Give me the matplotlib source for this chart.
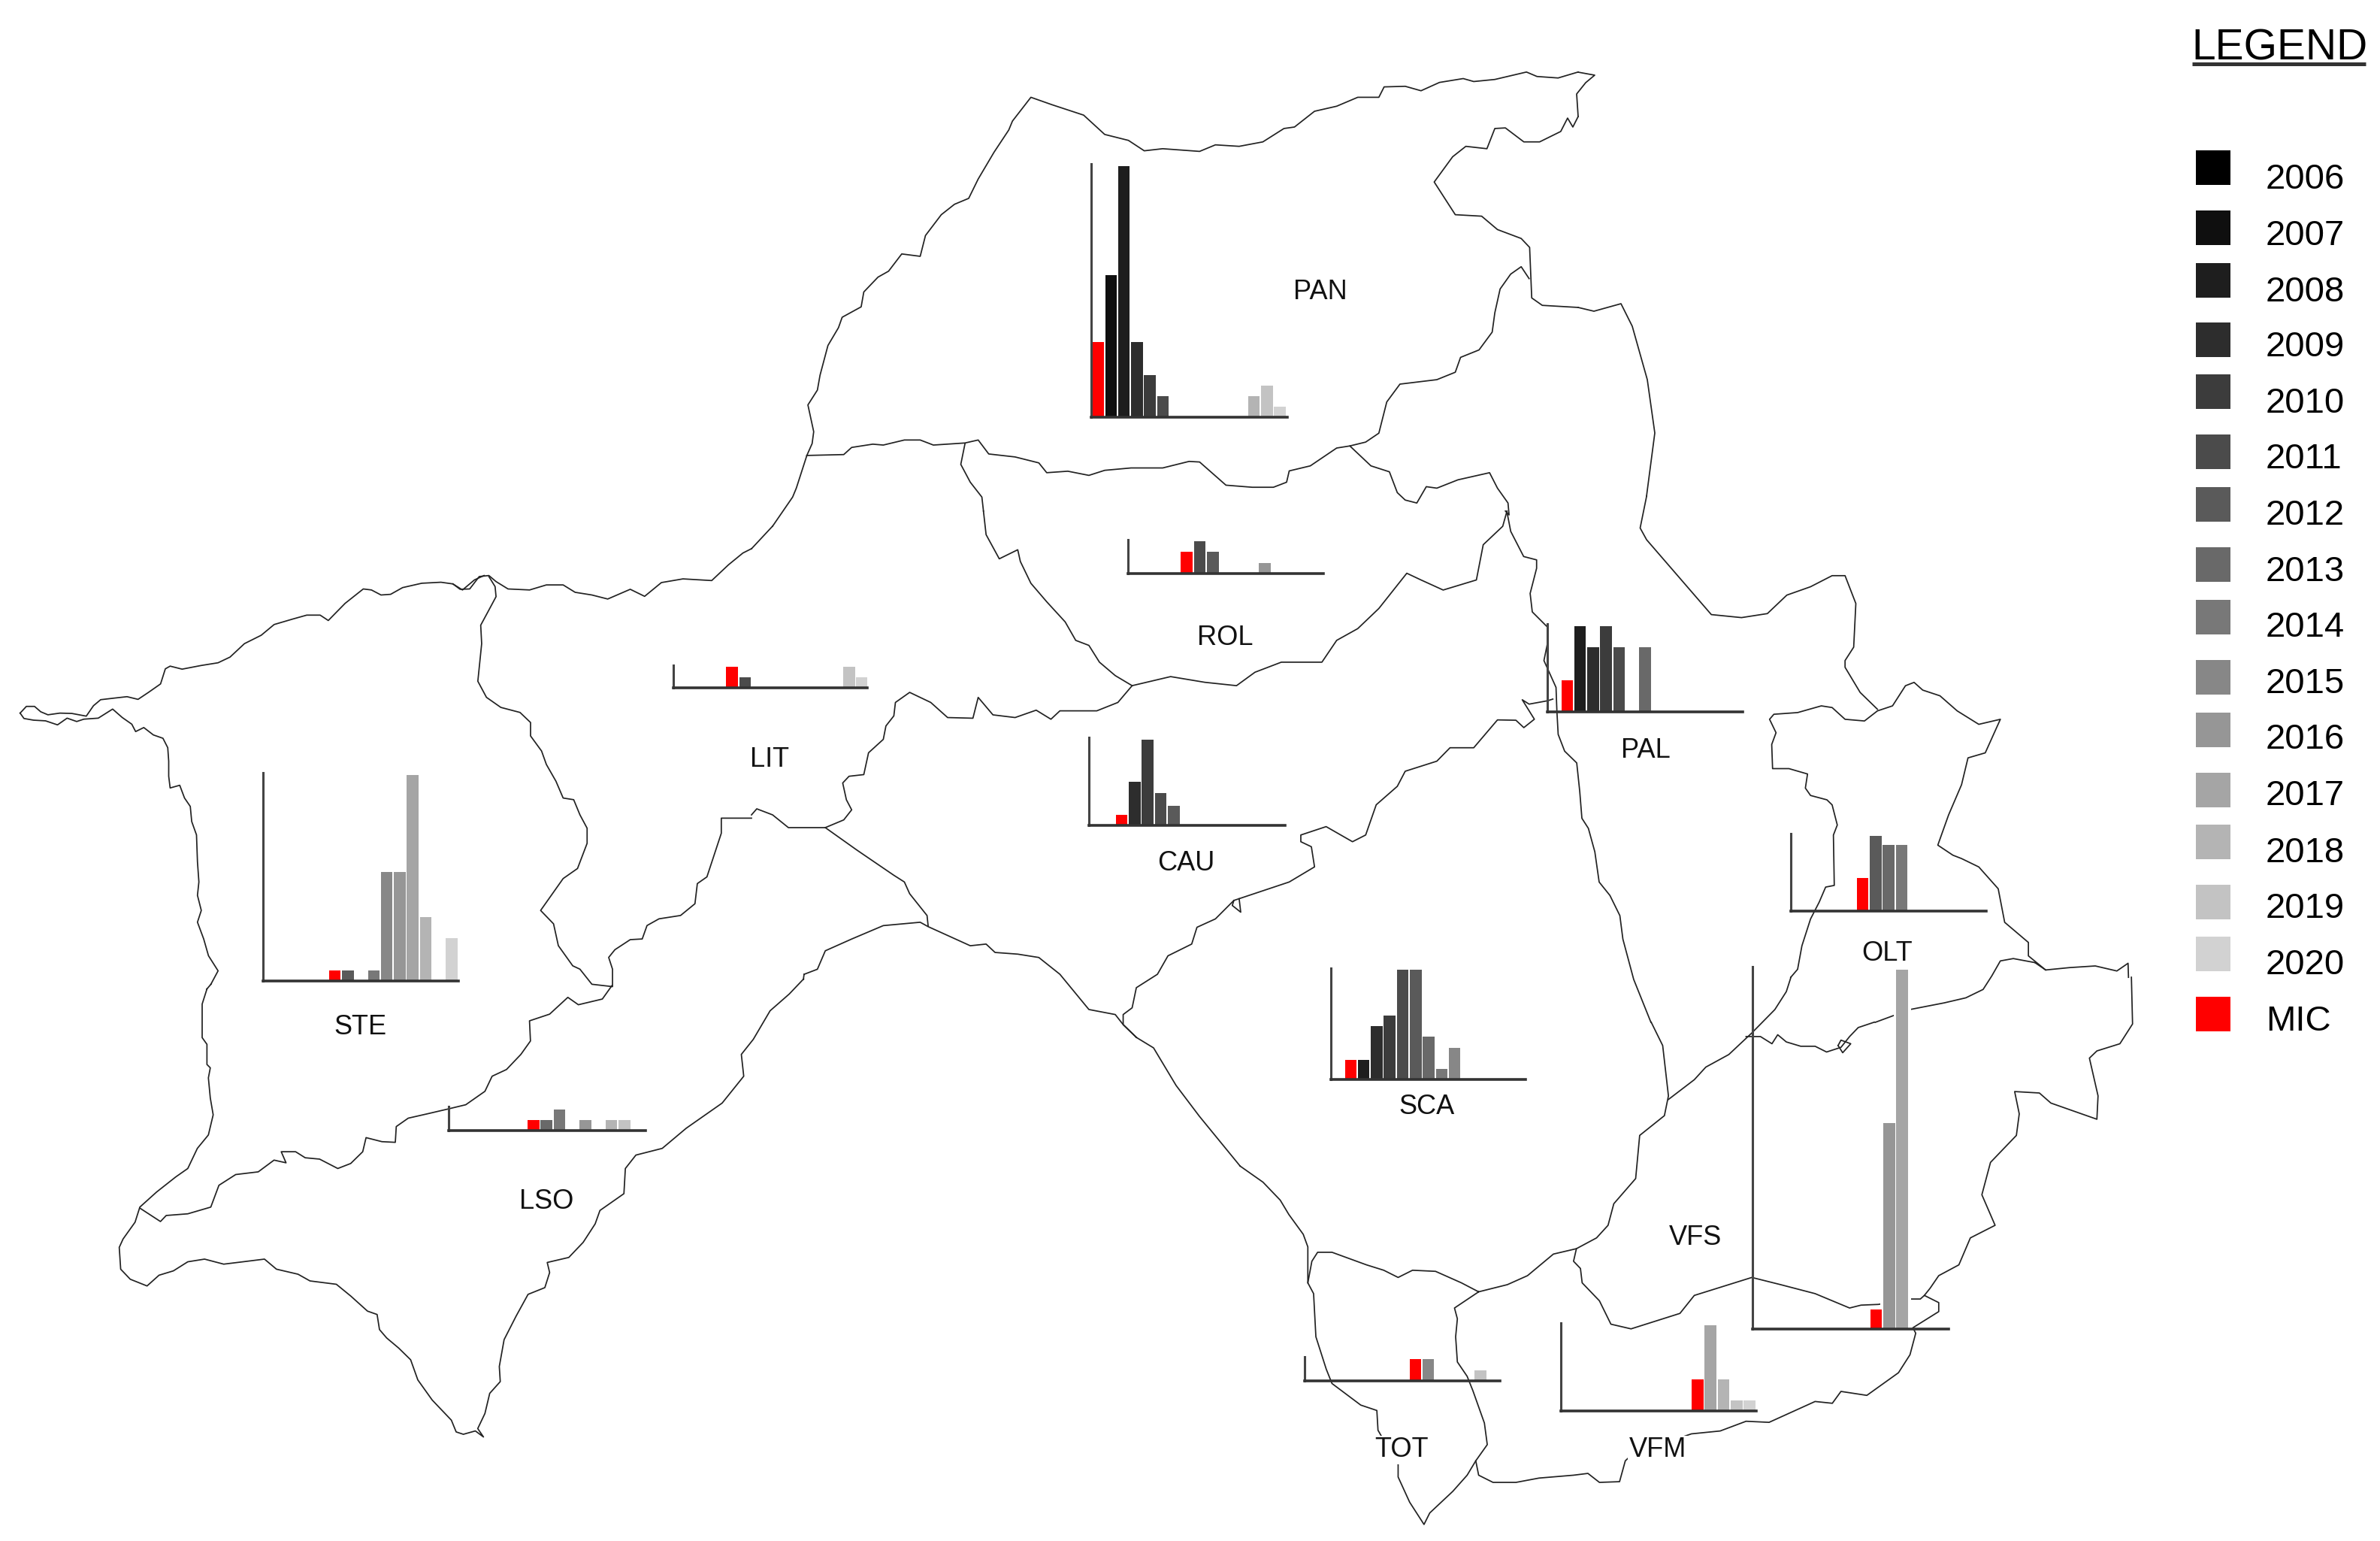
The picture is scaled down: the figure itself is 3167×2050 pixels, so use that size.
import matplotlib
matplotlib.use("Agg")
import matplotlib.pyplot as plt
from matplotlib.patches import Rectangle

W, H = 3167, 2050
DPI = 100

# ---------- data: yearly values per area (2006..2020) ----------
YEARS = list(range(2006, 2021))
PAN = [7.2, 13.6, 24.0, 7.2, 4.0, 2.0, 0, 0, 0, 0, 0, 0, 2.0, 3.0, 1.0]
ROL = [0, 0, 0, 0, 2.1, 3.1, 2.1, 0, 0, 0, 1.0, 0, 0, 0, 0]
LIT = [0, 0, 0, 0, 2.0, 1.0, 0, 0, 0, 0, 0, 0, 0, 2.0, 1.0]
CAU = [0, 0, 1.0, 4.2, 8.2, 3.1, 1.9, 0, 0, 0, 0, 0, 0, 0, 0]
PAL = [0, 3.0, 8.2, 6.2, 8.2, 6.2, 0, 6.2, 0, 0, 0, 0, 0, 0, 0]
OLT = [0, 0, 0, 0, 0, 3.2, 7.2, 6.3, 6.3, 0, 0, 0, 0, 0, 0]
STE = [0, 0, 0, 0, 0, 1.0, 1.0, 0, 1.0, 10.4, 10.4, 19.7, 6.1, 0, 4.1]
LSO = [0, 0, 0, 0, 0, 0, 1.0, 1.0, 2.05, 0, 1.0, 0, 1.0, 1.0, 0]
SCA = [0, 1.9, 1.9, 5.1, 6.1, 10.5, 10.5, 4.1, 1.0, 3.0, 0, 0, 0, 0, 0]
VFS = [0, 0, 0, 0, 0, 0, 0, 0, 0, 1.9, 19.7, 34.4, 0, 0, 0]
TOT = [0, 0, 0, 0, 0, 0, 0, 0, 2.1, 2.1, 0, 0, 0, 1.0, 0]
VFM = [0, 0, 0, 0, 0, 0, 0, 0, 0, 0, 3.0, 8.2, 3.0, 1.0, 1.0]
AREAS = {"PAN": PAN, "ROL": ROL, "LIT": LIT, "CAU": CAU, "PAL": PAL, "OLT": OLT,
         "STE": STE, "LSO": LSO, "SCA": SCA, "VFS": VFS, "TOT": TOT, "VFM": VFM}
MIC_YEAR = {"PAN": 2006, "ROL": 2010, "LIT": 2010, "CAU": 2008, "PAL": 2007, "OLT": 2011,
            "STE": 2011, "LSO": 2012, "SCA": 2007, "VFS": 2015, "TOT": 2014, "VFM": 2016}

# ---------- layout ----------
# inset box: left x, baseline y, right x, top y (pixels)
BOX = {"PAN": (1452, 555, 1713, 218), "ROL": (1501, 763, 1761, 718), "LIT": (896, 915, 1154, 885),
       "CAU": (1449, 1098, 1710, 981), "PAL": (2059, 947, 2319, 830), "OLT": (2383, 1212, 2643, 1109),
       "STE": (350, 1305, 610, 1028), "LSO": (597, 1504, 859, 1472), "SCA": (1771, 1436, 2030, 1288),
       "VFS": (2332, 1768, 2593, 1286), "TOT": (1736, 1837, 1996, 1805), "VFM": (2077, 1877, 2337, 1760)}
LABEL = {"PAN": (1757, 389), "ROL": (1630, 848), "LIT": (1024, 1010), "CAU": (1578, 1149),
         "PAL": (2190, 998), "OLT": (2511, 1269), "STE": (479, 1367), "LSO": (727, 1598),
         "SCA": (1899, 1473), "VFS": (2256, 1646), "TOT": (1865, 1929), "VFM": (2206, 1929)}
UNIT_PX = 13.9
SLOT_PX = 17.29
FIRST_SLOT_PX = 9
SPINE_COLOR = "#444444"
LEG_TOP = [200, 280, 350, 429, 498, 578, 648, 728, 798, 878, 948, 1028, 1097, 1177, 1246, 1326]
LEG_BASE = [251, 326, 401, 474, 549, 623, 698, 773, 847, 922, 996, 1071, 1147, 1221, 1296, 1371]
GREYS = ["#%02x%02x%02x" % (g, g, g) for g in
         [0, 15, 30, 45, 60, 75, 90, 105, 120, 135, 150, 165, 180, 195, 210]]

# ---------- boundary traces; each crop: (x offset, y offset, x scale, y scale) ----------
CROP = {"px": (0, 0, 1, 1), "c5": (0, 700, 1.568, 2.24), "c6": (100, 1300, 1.568, 2.24),
        "c7": (1000, 80, 1.4255, 2.529), "c8": (1000, 680, 1.4255, 2.24),
        "c9": (1950, 660, 1.742, 2.24), "c10": (1650, 1300, 1.3067, 2.0907)}
TRACES = [
 ("c5", [(42,557),(55,537),(72,537),(85,553),(100,562),(125,557),(150,558),(180,566),(195,535),(210,517),(240,512),(265,508),(288,516),(310,495),(335,470),(345,425),(355,417),(380,426),(420,415),(455,407),(480,390),(510,350),(545,325),(572,293),(610,277),(640,265),(668,265),(685,281),(720,230),(758,187),(775,190),(795,205),(815,203),(840,183),(880,170),(920,167),(945,172),(960,188),(980,187),(1000,150),(1020,147),(1035,165),(1060,187),(1105,190),(1140,175),(1175,175),(1200,197),(1235,205),(1268,217),(1315,188),(1345,209),(1380,168),(1425,157),(1485,162),(1520,115),(1550,80),(1568,67)]),
 ("px", [(1000,730),(1028,700)]),
 ("c5", [(945,172),(965,190),(990,160),(1010,147)]),
 ("c5", [(42,557),(50,573),(70,578),(95,580),(120,592),(140,572),(160,582),(175,575),(205,572),(235,545),(255,570),(275,590),(283,612),(300,600),(320,622),(340,632),(350,660),(352,700),(352,745),(355,780),(375,772),(385,810),(397,835),(400,880),(410,920),(412,1000),(415,1060),(412,1100),(420,1145),(412,1180),(425,1230),(435,1280),(455,1325),(440,1365)]),
 ("px", [(281,1309),(275,1316)]),
 ("c6", [(275,35),(265,80),(265,180),(275,200),(275,260),(282,270),(278,300),(282,360),(288,410),(278,470),(255,510),(235,570),(210,595),(170,640),(135,685),(125,730),(100,780),(92,805),(95,870),(115,900),(150,920),(175,888),(205,875),(235,848),(270,840),(310,855),(350,848),(395,840),(420,870),(465,885),(490,905),(545,915),(575,950),(610,995),(630,1005),(635,1050),(650,1075),(675,1105),(700,1140),(715,1200),(745,1260),(785,1320),(795,1355),(810,1362),(835,1352),(852,1370),(840,1345),(855,1300),(865,1240),(887,1205),(885,1160),(895,1080),(920,1010),(945,945),(980,925),(990,880),(985,850),(1030,835),(1060,790),(1085,735),(1095,695),(1145,645),(1148,570),(1170,530),(1225,510),(1275,450),(1330,395),(1350,375),(1395,295),(1390,230),(1415,185),(1450,100),(1490,50),(1520,5)]),
 ("px", [(1069,1303),(1070,1296)]),
 ("c8", [(100,1380),(125,1365),(140,1310),(190,1275),(250,1235),(320,1225),(335,1238),(415,1295),(445,1290),(462,1315),(505,1320),(545,1330),(585,1380),(640,1485),(690,1500),(705,1530),(730,1568)]),
 ("px", [(1512,1380),(1535,1394),(1565,1444),(1596,1485),(1650,1551)]),
 ("c10", [(0,525),(40,570),(70,620),(85,660),(110,715),(118,750),(118,850)]),
 ("c5", [(1020,150),(1033,180),(1035,210),(1020,250),(1003,295),(1005,350),(1000,420),(997,462),(1015,510),(1045,540),(1085,555),(1107,585),(1107,625),(1130,670),(1140,710),(1160,760),(1175,810),(1197,815),(1210,860),(1225,900),(1225,945),(1205,1020),(1175,1050),(1128,1145),(1155,1185),(1165,1250),(1195,1310),(1210,1320),(1235,1365),(1278,1372),(1278,1320),(1270,1285),(1283,1262),(1315,1232),(1340,1230),(1350,1190),(1375,1170),(1420,1160),(1450,1125),(1455,1065),(1475,1045),(1490,980),(1505,915),(1505,870),(1568,870)]),
 ("c6", [(1120,25),(1100,65),(1050,82),(1028,60),(990,110),(948,130),(950,190),(930,230),(900,275),(870,295),(855,340),(815,380),(780,392),(735,407),(695,420),(670,445),(668,492),(640,490),(607,478),(600,520),(575,555),(548,570),(510,542),(480,538),(460,520),(430,520),(440,553),(415,545),(382,580),(335,588),(300,620),(283,685),(235,705),(190,710),(178,728),(135,688)]),
 ("c8", [(0,905),(10,887),(40,905),(70,943),(140,943),(175,920),(190,890),(180,860),(173,810),(185,790),(213,785),(222,720),(250,680),(255,640),(270,610),(273,570),(300,540),(340,570),(372,615),(420,617),(430,555),(458,607),(500,615),(540,593),(568,620),(585,595),(655,595),(695,570),(722,520),(795,493),(860,510),(920,520),(955,480),(1005,450),(1082,450),(1110,385),(1150,350),(1190,290),(1243,185),(1270,205),(1312,235),(1375,205),(1388,100),(1425,45),(1433,0)]),
 ("c8", [(722,520),(690,490),(660,450),(640,400),(615,385),(595,330),(560,270),(530,215),(510,150),(505,115),(470,142),(445,70),(440,0)]),
 ("c7", [(440,1517),(437,1470),(415,1420),(397,1360),(405,1290)]),
 ("c7", [(105,1330),(115,1290),(118,1250),(107,1160),(125,1110),(130,1060),(145,960),(165,900),(172,865),(208,830),(213,780),(240,730),(260,710),(285,652),(320,660),(330,590),(360,520),(385,485),(412,465),(430,400),(460,310),(488,235),(495,205),(530,125),(570,150),(630,185),(670,250),(715,270),(745,305),(780,298),(850,307),(880,285),(925,290),(970,275),(1010,230),(1030,225),(1068,172),(1110,155),(1150,125),(1190,125),(1200,90),(1240,88),(1270,103),(1305,75),(1350,62),(1370,72),(1410,65),(1470,40),(1490,55),(1530,60),(1568,40)]),
 ("c7", [(105,1330),(85,1440),(78,1470),(40,1568)]),
 ("px", [(2100,96),(2122,100),(2110,110),(2098,125),(2100,155)]),
 ("c7", [(1568,190),(1558,225),(1548,195),(1535,240),(1495,275),(1465,275),(1430,228),(1410,230),(1395,298),(1355,290),(1330,325),(1295,410),(1335,520),(1385,525),(1415,570),(1460,600),(1476,630),(1480,800),(1500,825),(1568,832)]),
 ("px", [(2100,409),(2121,414),(2157,404),(2172,434),(2192,505),(2202,576),(2191,660)]),
 ("c7", [(105,1330),(175,1327),(190,1303),(230,1292),(250,1295),(290,1278),(320,1278),(345,1295),(405,1288),(430,1278),(450,1325),(500,1335),(545,1355),(560,1388),(600,1383),(640,1397),(670,1380),(720,1372),(780,1372),(830,1350),(850,1352),(900,1430),(950,1437),(990,1437),(1015,1420),(1020,1382),(1060,1365),(1110,1305),(1135,1298),(1165,1285),(1190,1255),(1205,1150),(1230,1090),(1300,1075),(1335,1050),(1345,1000),(1380,975),(1405,915),(1410,850),(1420,770),(1440,720),(1460,695),(1475,735)]),
 ("c7", [(1135,1298),(1175,1365),(1210,1385),(1225,1455),(1240,1480),(1262,1490),(1280,1435),(1300,1440),(1340,1412),(1400,1388),(1415,1440),(1435,1490),(1437,1530),(1430,1517)]),
 ("c9", [(420,0),(405,95),(420,130),(570,353),(640,362),(700,350),(745,295),(800,270),(850,237),(880,237),(905,320),(900,450),(880,490),(880,510),(915,585),(955,635)]),
 ("c9", [(96,45),(105,105),(135,180),(165,190),(165,215),(150,290),(155,345),(190,390),(190,440),(182,490),(210,570),(212,640),(215,710),(230,760),(258,795),(265,880),(270,960),(285,990),(300,1060),(310,1150),(335,1190),(358,1250),(365,1320),(390,1440),(430,1568)]),
 ("c10", [(715,125),(735,190),(745,330),(738,385),(695,440),(688,560),(650,630),(640,690),(620,725),(585,755),(545,770),(500,830),(465,855),(415,875),(385,850),(340,818),(300,815),(275,835),(250,815),(220,800),(160,765),(135,765),(125,790),(118,850),(128,880),(132,1000),(150,1090),(160,1130),(210,1190),(238,1205),(240,1260),(258,1310),(275,1355),(275,1390),(295,1460),(320,1522),(330,1490),(370,1430),(395,1385),(410,1345),(430,1300),(425,1240),(405,1150),(395,1110),(378,1070),(375,1000),(378,950),(373,920),(415,875)]),
 ("c10", [(410,1345),(415,1385),(440,1405),(480,1405),(520,1393),(580,1385),(605,1380),(625,1405),(660,1403),(670,1345),(680,1330),(730,1300),(785,1270),(835,1262),(880,1235),(920,1238),(1000,1180),(1030,1185),(1045,1152),(1090,1163),(1145,1100),(1165,1050),(1175,990),(1170,975),(1215,930),(1215,905),(1190,885)]),
 ("c10", [(585,755),(580,790),(592,810),(595,850),(625,900),(645,965),(680,978),(765,935),(790,885),(890,835),(940,855),(1000,880),(1060,920),(1080,912),(1110,910),(1165,895),(1183,895),(1190,885),(1200,865),(1215,830),(1250,800),(1270,725),(1313,690),(1290,605),(1305,515),(1350,440),(1355,380),(1347,318),(1390,322),(1410,350),(1490,395),(1492,330),(1477,225),(1490,205),(1530,185),(1552,130),(1550,0)]),
 ("c9", [(1320,1390),(1345,1412),(1400,1405),(1460,1400),(1510,1415),(1536,1392),(1537,1434)]),
 ("c9", [(950,1568),(1030,1530),(1110,1510),(1160,1495),(1200,1470),(1220,1430),(1240,1385),(1270,1378),(1320,1390)]),
 ("c10", [(880,165),(905,165),(925,185),(935,160),(950,180),(975,192),(1000,192),(1020,208),(1045,195),(1060,165),(1075,140),(1103,125)]),
 ("c10", [(1040,190),(1048,210),(1062,185),(1045,175),(1040,190)]),
 ("c10", [(745,340),(790,285),(810,250),(850,215),(890,155),(930,90),(950,40),(958,0)]),
 ("c9", [(754,1434),(770,1410),(780,1340),(800,1260),(820,1210),(835,1165),(855,1160),(853,1010),(862,980),(850,920),(838,905),(800,892),(788,870),(793,828),(750,812),(712,812),(710,740),(720,705),(705,665),(715,650),(770,645),(825,625),(850,630),(880,665),(925,670),(955,640),(990,625),(1020,565),(1040,555),(1060,578),(1100,595),(1140,640),(1190,680),(1240,665),(1205,765),(1165,780),(1150,860),(1120,950),(1095,1040),(1130,1070),(1150,1080),(1190,1105),(1235,1170),(1250,1270),(1305,1330),(1305,1370),(1345,1412)]),
 ("c8", [(730,1568),(705,1530),(705,1500),(722,1480),(730,1420),(770,1380),(790,1325),(835,1290),(845,1240),(880,1215),(915,1160),(1020,1105),(1068,1060),(1062,1000),(1042,985),(1042,965),(1090,940),(1140,985),(1165,965),(1185,875),(1225,820),(1240,775),(1300,745),(1325,705),(1370,705),(1415,622),(1450,623),(1465,645),(1485,620),(1462,562),(1475,575),(1510,565),(1520,560)]),
 ("c8", [(915,1160),(912,1175),(928,1195),(925,1155)]),
 ("c8", [(140,943),(200,1010),(270,1085),(290,1105),(300,1140),(333,1205),(335,1235)]),
]

plt.rcParams["font.family"] = ["Liberation Sans", "DejaVu Sans"]
fig = plt.figure(figsize=(W / DPI, H / DPI), dpi=DPI, facecolor="white")
ax = fig.add_axes([0, 0, 1, 1])
ax.set_xlim(0, W)
ax.set_ylim(H, 0)
ax.axis("off")

for crop, pts in TRACES:
    ox, oy, sx, sy = CROP[crop]
    ax.plot([ox + p[0] / sx for p in pts], [oy + p[1] / sy for p in pts],
            color="#222222", lw=1.25, solid_joinstyle="round", zorder=1)

for name, (tx, ty) in LABEL.items():
    ax.text(tx, ty, name, ha="center", va="center", fontsize=26, color="#111111", zorder=2,
            bbox=dict(fc="white", ec="none", pad=1))

for name, values in AREAS.items():
    x0, base, x1, top = BOX[name]
    inset = fig.add_axes([x0 / W, 1 - base / H, (x1 - x0) / W, (base - top) / H])
    inset.patch.set_alpha(0)
    inset.set_xlim(-FIRST_SLOT_PX / SLOT_PX, (x1 - x0 - FIRST_SLOT_PX) / SLOT_PX)
    inset.set_ylim(0, (base - top) / UNIT_PX)
    slots = [i for i, v in enumerate(values) if v > 0]
    heights = [values[i] for i in slots]
    colors = ["#ff0000" if YEARS[i] == MIC_YEAR[name] else GREYS[i] for i in slots]
    inset.bar(slots, [h + 0.25 for h in heights], width=1.35, color="white", zorder=1, clip_on=False)
    inset.bar(slots, heights, width=0.9, color=colors, zorder=2)
    for side in ("top", "right"):
        inset.spines[side].set_visible(False)
    inset.spines["left"].set_color(SPINE_COLOR)
    inset.spines["left"].set_linewidth(2.2)
    inset.spines["bottom"].set_color("#333333")
    inset.spines["bottom"].set_linewidth(2.6)
    inset.set_xticks([])
    inset.set_yticks([])

# legend
ax.text(2916, 80, "LEGEND", ha="left", va="baseline", fontsize=41, color="black", zorder=3)
ax.plot([2917, 3148], [85, 85], color="#333333", lw=3.6, solid_capstyle="butt", zorder=3)
leg_labels = [str(y) for y in YEARS] + ["MIC"]
leg_colors = GREYS + ["#ff0000"]
for lab, col, top, bl in zip(leg_labels, leg_colors, LEG_TOP, LEG_BASE):
    ax.add_patch(Rectangle((2922, top), 46, 46, fc=col, ec="none", zorder=3))
    ax.text(3015, bl, lab, ha="left", va="baseline", fontsize=34, color="black", zorder=3)

fig.savefig("out.png", dpi=DPI)
